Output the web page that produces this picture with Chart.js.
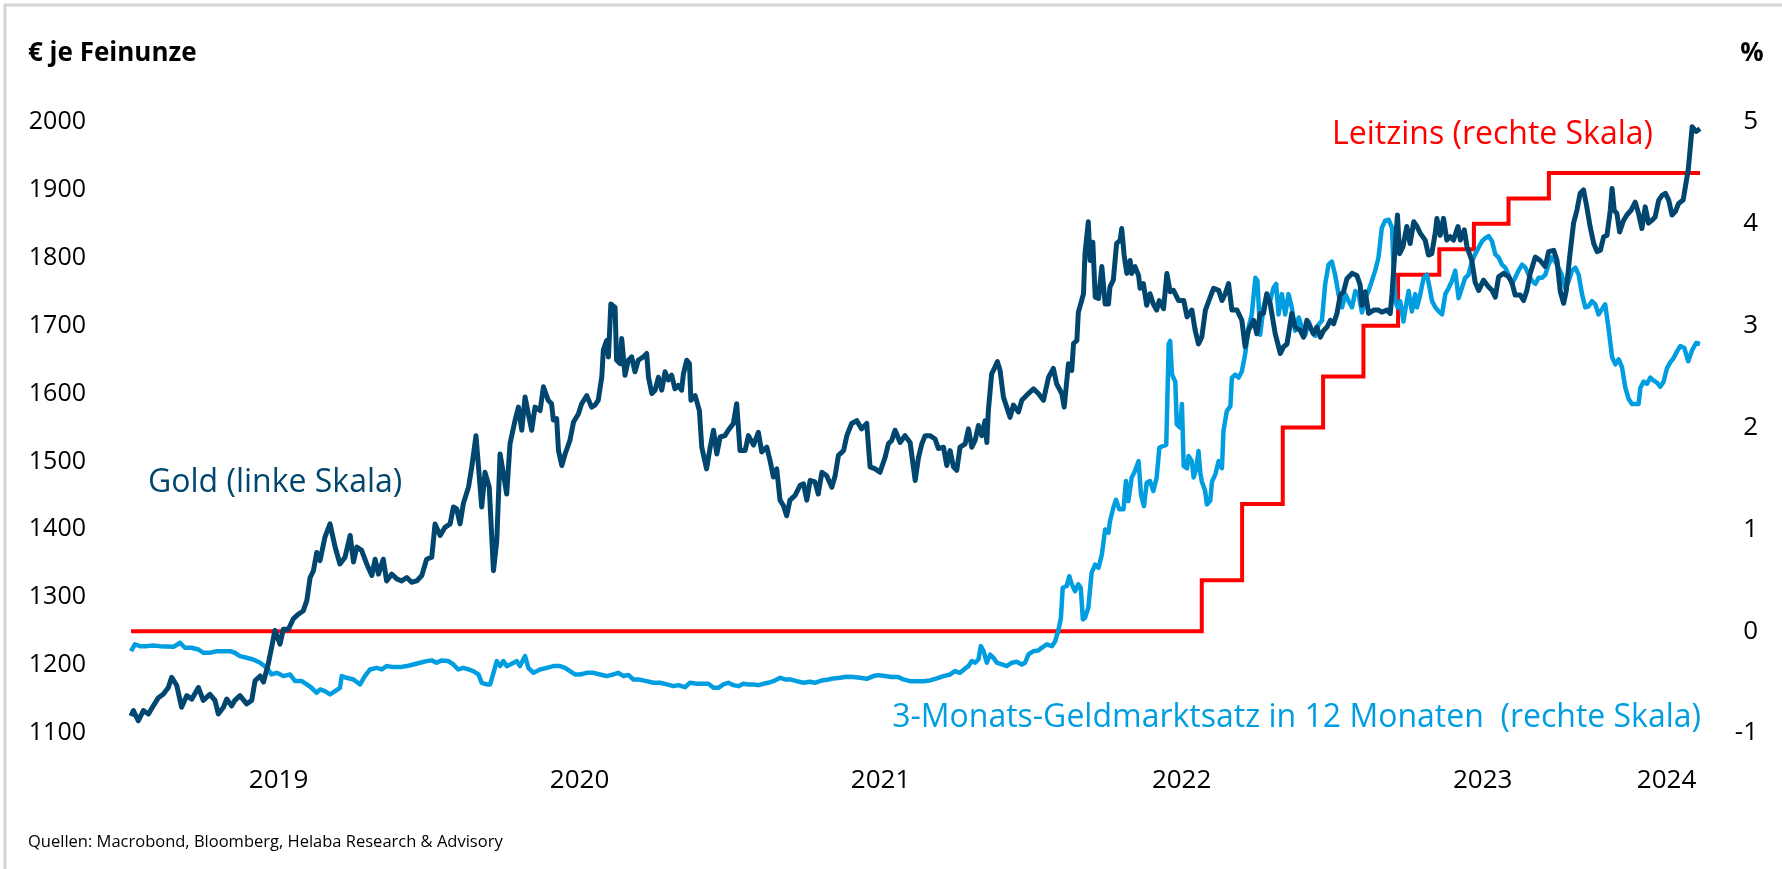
<!DOCTYPE html>
<html>
<head>
<meta charset="utf-8">
<script src="https://cdn.jsdelivr.net/npm/chart.js@4.4.1/dist/chart.umd.min.js"></script>
<style>
  html, body { margin: 0; padding: 0; background: #fff; }
  #wrap { width: 1782px; height: 869px; }
</style>
</head>
<body>
<div id="wrap"><canvas id="chart" width="1782" height="869"></canvas></div>
<script>
// x values are fractional years
const xMin = 2019.0;
const xMax = 2024.222;
const yearLabels = ['2019', '2020', '2021', '2022', '2023', '2024'];

// Gold in EUR per troy ounce (left scale)
const goldDates = [
  2019.010, 2019.018, 2019.034, 2019.051, 2019.068, 2019.084, 2019.101, 2019.117, 2019.134, 2019.145,
  2019.162, 2019.178, 2019.195, 2019.212, 2019.234, 2019.250, 2019.272, 2019.289, 2019.300, 2019.317,
  2019.328, 2019.344, 2019.355, 2019.372, 2019.394, 2019.411, 2019.422, 2019.439, 2019.450, 2019.466,
  2019.477, 2019.488, 2019.505, 2019.516, 2019.533, 2019.549, 2019.566, 2019.582, 2019.594, 2019.605,
  2019.616, 2019.627, 2019.638, 2019.654, 2019.671, 2019.688, 2019.704, 2019.721, 2019.738, 2019.749,
  2019.760, 2019.776, 2019.793, 2019.810, 2019.821, 2019.832, 2019.848, 2019.859, 2019.876, 2019.893,
  2019.909, 2019.926, 2019.942, 2019.959, 2019.976, 2019.992, 2020.009, 2020.020, 2020.037, 2020.053,
  2020.070, 2020.081, 2020.092, 2020.103, 2020.114, 2020.131, 2020.142, 2020.156, 2020.175, 2020.186,
  2020.200, 2020.214, 2020.225, 2020.236, 2020.247, 2020.258, 2020.269, 2020.286, 2020.297, 2020.308,
  2020.319, 2020.330, 2020.341, 2020.352, 2020.369, 2020.380, 2020.396, 2020.407, 2020.413, 2020.424,
  2020.430, 2020.441, 2020.452, 2020.468, 2020.480, 2020.496, 2020.507, 2020.524, 2020.540, 2020.551,
  2020.562, 2020.574, 2020.579, 2020.590, 2020.596, 2020.604, 2020.618, 2020.623, 2020.635, 2020.640,
  2020.651, 2020.662, 2020.673, 2020.684, 2020.695, 2020.712, 2020.723, 2020.729, 2020.740, 2020.751,
  2020.762, 2020.773, 2020.784, 2020.795, 2020.806, 2020.817, 2020.828, 2020.839, 2020.845, 2020.856,
  2020.865, 2020.870, 2020.884, 2020.898, 2020.906, 2020.922, 2020.934, 2020.945, 2020.956, 2020.967,
  2020.983, 2020.994, 2021.011, 2021.022, 2021.033, 2021.050, 2021.061, 2021.078, 2021.094, 2021.105,
  2021.122, 2021.133, 2021.144, 2021.155, 2021.166, 2021.177, 2021.188, 2021.199, 2021.216, 2021.233,
  2021.244, 2021.255, 2021.266, 2021.282, 2021.293, 2021.305, 2021.321, 2021.338, 2021.349, 2021.360,
  2021.377, 2021.388, 2021.404, 2021.421, 2021.437, 2021.454, 2021.465, 2021.482, 2021.498, 2021.515,
  2021.526, 2021.537, 2021.548, 2021.565, 2021.581, 2021.598, 2021.615, 2021.626, 2021.637, 2021.648,
  2021.664, 2021.681, 2021.692, 2021.709, 2021.720, 2021.731, 2021.742, 2021.753, 2021.764, 2021.781,
  2021.792, 2021.803, 2021.814, 2021.825, 2021.836, 2021.847, 2021.853, 2021.858, 2021.869, 2021.880,
  2021.888, 2021.897, 2021.908, 2021.919, 2021.930, 2021.941, 2021.958, 2021.969, 2021.991, 2022.008,
  2022.024, 2022.041, 2022.058, 2022.074, 2022.085, 2022.102, 2022.110, 2022.124, 2022.135, 2022.141,
  2022.152, 2022.157, 2022.168, 2022.174, 2022.179, 2022.190, 2022.196, 2022.205, 2022.213, 2022.224,
  2022.235, 2022.246, 2022.257, 2022.262, 2022.273, 2022.284, 2022.296, 2022.301, 2022.309, 2022.318,
  2022.329, 2022.334, 2022.345, 2022.357, 2022.362, 2022.373, 2022.384, 2022.395, 2022.406, 2022.417,
  2022.426, 2022.440, 2022.451, 2022.462, 2022.473, 2022.490, 2022.507, 2022.518, 2022.534, 2022.545,
  2022.556, 2022.567, 2022.579, 2022.595, 2022.606, 2022.623, 2022.634, 2022.645, 2022.656, 2022.667,
  2022.684, 2022.700, 2022.711, 2022.722, 2022.739, 2022.750, 2022.761, 2022.772, 2022.783, 2022.794,
  2022.811, 2022.828, 2022.839, 2022.850, 2022.866, 2022.877, 2022.894, 2022.905, 2022.916, 2022.927,
  2022.938, 2022.949, 2022.961, 2022.972, 2022.983, 2022.994, 2023.005, 2023.016, 2023.027, 2023.038,
  2023.049, 2023.066, 2023.082, 2023.093, 2023.099, 2023.110, 2023.121, 2023.138, 2023.154, 2023.165,
  2023.182, 2023.193, 2023.199, 2023.210, 2023.217, 2023.224, 2023.235, 2023.248, 2023.259, 2023.271,
  2023.282, 2023.293, 2023.309, 2023.320, 2023.331, 2023.343, 2023.348, 2023.359, 2023.370, 2023.381,
  2023.392, 2023.403, 2023.418, 2023.426, 2023.439, 2023.448, 2023.464, 2023.475, 2023.487, 2023.503,
  2023.520, 2023.531, 2023.542, 2023.553, 2023.570, 2023.586, 2023.597, 2023.608, 2023.625, 2023.636,
  2023.647, 2023.658, 2023.675, 2023.691, 2023.708, 2023.719, 2023.736, 2023.747, 2023.758, 2023.769,
  2023.778, 2023.789, 2023.802, 2023.813, 2023.824, 2023.835, 2023.846, 2023.857, 2023.869, 2023.880,
  2023.891, 2023.902, 2023.913, 2023.924, 2023.930, 2023.937, 2023.946, 2023.955, 2023.968, 2023.979,
  2023.993, 2024.007, 2024.018, 2024.029, 2024.040, 2024.051, 2024.062, 2024.073, 2024.085, 2024.096,
  2024.107, 2024.118, 2024.129, 2024.140, 2024.151, 2024.166, 2024.183, 2024.196, 2024.209, 2024.222
];
const goldValues = [
  1125, 1133, 1118, 1133, 1128, 1140, 1152, 1157, 1167, 1182,
  1170, 1138, 1155, 1150, 1167, 1148, 1157, 1148, 1128, 1138,
  1150, 1140, 1148, 1155, 1143, 1148, 1177, 1184, 1175, 1202,
  1226, 1251, 1231, 1253, 1253, 1268, 1275, 1280, 1295, 1329,
  1339, 1366, 1354, 1388, 1408, 1374, 1349, 1359, 1391, 1352,
  1374, 1369, 1349, 1332, 1356, 1334, 1356, 1324, 1334, 1327,
  1324, 1329, 1322, 1324, 1332, 1356, 1359, 1408, 1391, 1403,
  1408, 1433, 1430, 1408, 1438, 1462, 1492, 1538, 1433, 1484,
  1462, 1339, 1383, 1511, 1482, 1452, 1526, 1561, 1580, 1546,
  1595, 1570, 1546, 1580, 1575, 1610, 1590, 1585, 1561, 1563,
  1516, 1494, 1511, 1531, 1558, 1570, 1585, 1597, 1580, 1583,
  1590, 1625, 1664, 1678, 1654, 1732, 1727, 1649, 1644, 1681,
  1627, 1649, 1654, 1632, 1649, 1654, 1659, 1624, 1600, 1605,
  1624, 1605, 1632, 1620, 1627, 1607, 1612, 1605, 1629, 1649,
  1644, 1590, 1597, 1575, 1521, 1489, 1521, 1546, 1511, 1536,
  1538, 1546, 1556, 1585, 1516, 1516, 1538, 1524, 1543, 1514,
  1521, 1501, 1477, 1489, 1443, 1435, 1420, 1443, 1450, 1465,
  1467, 1443, 1472, 1470, 1452, 1484, 1479, 1462, 1479, 1509,
  1516, 1538, 1556, 1560, 1548, 1556, 1492, 1489, 1484, 1506,
  1526, 1531, 1546, 1528, 1538, 1528, 1472, 1506, 1526, 1538,
  1538, 1533, 1519, 1521, 1494, 1516, 1492, 1487, 1521, 1526,
  1548, 1521, 1531, 1553, 1538, 1560, 1528, 1575, 1629, 1639,
  1647, 1634, 1595, 1580, 1565, 1583, 1573, 1590, 1600, 1607,
  1600, 1590, 1624, 1637, 1614, 1600, 1580, 1644, 1634, 1674,
  1678, 1720, 1737, 1747, 1806, 1853, 1796, 1823, 1742, 1740,
  1787, 1732, 1732, 1757, 1767, 1821, 1826, 1843, 1804, 1777,
  1796, 1777, 1787, 1774, 1755, 1762, 1730, 1747, 1732, 1723,
  1737, 1725, 1777, 1750, 1752, 1737, 1737, 1713, 1723, 1693,
  1673, 1683, 1723, 1742, 1755, 1752, 1737, 1747, 1762, 1723,
  1723, 1708, 1669, 1693, 1708, 1688, 1718, 1718, 1747, 1733,
  1688, 1659, 1669, 1673, 1718, 1698, 1693, 1683, 1708, 1698,
  1688, 1698, 1683, 1693, 1698, 1708, 1703, 1718, 1745, 1750,
  1769, 1777, 1774, 1760, 1730, 1750, 1718, 1723, 1723, 1720,
  1723, 1718, 1747, 1821, 1863, 1806, 1816, 1846, 1821, 1853,
  1846, 1836, 1826, 1804, 1806, 1838, 1858, 1833, 1858, 1826,
  1831, 1826, 1846, 1826, 1841, 1816, 1796, 1764, 1752, 1767,
  1757, 1752, 1742, 1772, 1777, 1772, 1764, 1745, 1745, 1737,
  1752, 1777, 1801, 1796, 1787, 1809, 1811, 1796, 1750, 1733,
  1752, 1801, 1851, 1870, 1895, 1900, 1875, 1846, 1821, 1809,
  1811, 1831, 1833, 1870, 1902, 1870, 1865, 1838, 1855, 1863,
  1870, 1882, 1865, 1843, 1875, 1851, 1855, 1860, 1885, 1892,
  1895, 1885, 1863, 1868, 1880, 1885, 1930, 1993, 1986, 1990
];

// 3-month money market rate in 12 months, % (right scale)
const rateDates = [
  2019.010, 2019.023, 2019.040, 2019.062, 2019.084, 2019.106, 2019.128, 2019.151, 2019.173, 2019.189,
  2019.211, 2019.234, 2019.250, 2019.272, 2019.295, 2019.317, 2019.339, 2019.355, 2019.372, 2019.394,
  2019.416, 2019.439, 2019.461, 2019.477, 2019.494, 2019.516, 2019.538, 2019.555, 2019.577, 2019.594,
  2019.610, 2019.627, 2019.638, 2019.654, 2019.671, 2019.688, 2019.704, 2019.710, 2019.726, 2019.749,
  2019.771, 2019.787, 2019.804, 2019.826, 2019.843, 2019.859, 2019.881, 2019.904, 2019.926, 2019.948,
  2019.970, 2019.992, 2020.009, 2020.025, 2020.042, 2020.064, 2020.081, 2020.097, 2020.114, 2020.131,
  2020.147, 2020.164, 2020.175, 2020.192, 2020.203, 2020.214, 2020.225, 2020.236, 2020.247, 2020.258,
  2020.275, 2020.291, 2020.302, 2020.319, 2020.330, 2020.347, 2020.369, 2020.391, 2020.413, 2020.435,
  2020.452, 2020.468, 2020.485, 2020.502, 2020.524, 2020.546, 2020.568, 2020.590, 2020.612, 2020.629,
  2020.646, 2020.662, 2020.679, 2020.695, 2020.723, 2020.745, 2020.767, 2020.790, 2020.812, 2020.828,
  2020.850, 2020.867, 2020.889, 2020.911, 2020.928, 2020.945, 2020.961, 2020.978, 2020.994, 2021.011,
  2021.028, 2021.044, 2021.061, 2021.078, 2021.094, 2021.111, 2021.127, 2021.144, 2021.166, 2021.183,
  2021.199, 2021.221, 2021.244, 2021.266, 2021.282, 2021.305, 2021.327, 2021.343, 2021.365, 2021.388,
  2021.410, 2021.432, 2021.454, 2021.476, 2021.493, 2021.515, 2021.537, 2021.559, 2021.576, 2021.598,
  2021.620, 2021.642, 2021.664, 2021.687, 2021.709, 2021.731, 2021.747, 2021.764, 2021.781, 2021.792,
  2021.803, 2021.814, 2021.825, 2021.833, 2021.842, 2021.853, 2021.864, 2021.875, 2021.886, 2021.903,
  2021.919, 2021.936, 2021.952, 2021.969, 2021.980, 2021.991, 2022.008, 2022.024, 2022.035, 2022.052,
  2022.069, 2022.080, 2022.091, 2022.099, 2022.105, 2022.118, 2022.127, 2022.135, 2022.146, 2022.157,
  2022.165, 2022.172, 2022.179, 2022.190, 2022.201, 2022.213, 2022.224, 2022.235, 2022.246, 2022.257,
  2022.262, 2022.273, 2022.282, 2022.293, 2022.307, 2022.315, 2022.323, 2022.334, 2022.345, 2022.357,
  2022.365, 2022.375, 2022.384, 2022.395, 2022.406, 2022.417, 2022.426, 2022.438, 2022.449, 2022.457,
  2022.462, 2022.468, 2022.479, 2022.484, 2022.495, 2022.501, 2022.507, 2022.518, 2022.523, 2022.534,
  2022.540, 2022.549, 2022.556, 2022.562, 2022.567, 2022.578, 2022.584, 2022.595, 2022.601, 2022.612,
  2022.623, 2022.634, 2022.639, 2022.650, 2022.662, 2022.667, 2022.678, 2022.689, 2022.700, 2022.711,
  2022.722, 2022.733, 2022.745, 2022.752, 2022.761, 2022.772, 2022.783, 2022.794, 2022.805, 2022.814,
  2022.822, 2022.833, 2022.844, 2022.855, 2022.866, 2022.877, 2022.889, 2022.900, 2022.911, 2022.922,
  2022.933, 2022.944, 2022.955, 2022.966, 2022.977, 2022.988, 2022.999, 2023.010, 2023.021, 2023.033,
  2023.044, 2023.055, 2023.066, 2023.077, 2023.088, 2023.099, 2023.110, 2023.121, 2023.132, 2023.143,
  2023.154, 2023.165, 2023.176, 2023.188, 2023.199, 2023.204, 2023.210, 2023.217, 2023.226, 2023.237,
  2023.246, 2023.254, 2023.265, 2023.276, 2023.282, 2023.293, 2023.304, 2023.315, 2023.324, 2023.332,
  2023.343, 2023.354, 2023.365, 2023.376, 2023.387, 2023.398, 2023.409, 2023.420, 2023.431, 2023.442,
  2023.453, 2023.464, 2023.475, 2023.487, 2023.498, 2023.509, 2023.520, 2023.531, 2023.542, 2023.553,
  2023.564, 2023.575, 2023.586, 2023.597, 2023.608, 2023.619, 2023.631, 2023.642, 2023.653, 2023.664,
  2023.675, 2023.686, 2023.697, 2023.708, 2023.719, 2023.730, 2023.741, 2023.752, 2023.763, 2023.774,
  2023.786, 2023.797, 2023.808, 2023.819, 2023.830, 2023.841, 2023.852, 2023.863, 2023.874, 2023.885,
  2023.896, 2023.907, 2023.918, 2023.930, 2023.941, 2023.952, 2023.963, 2023.974, 2023.985, 2023.996,
  2024.007, 2024.018, 2024.024, 2024.035, 2024.046, 2024.057, 2024.068, 2024.079, 2024.090, 2024.101,
  2024.112, 2024.123, 2024.134, 2024.146, 2024.157, 2024.170, 2024.183, 2024.196, 2024.209, 2024.222
];
const rateValues = [
  -0.196, -0.13, -0.147, -0.147, -0.14, -0.147, -0.15, -0.154, -0.114, -0.163,
  -0.163, -0.18, -0.212, -0.212, -0.196, -0.196, -0.196, -0.212, -0.245, -0.261,
  -0.278, -0.31, -0.36, -0.425, -0.409, -0.441, -0.425, -0.49, -0.49, -0.523,
  -0.556, -0.605, -0.572, -0.589, -0.621, -0.589, -0.556, -0.441, -0.458, -0.474,
  -0.523, -0.441, -0.376, -0.36, -0.376, -0.343, -0.353, -0.353, -0.343, -0.327,
  -0.31, -0.294, -0.287, -0.31, -0.287, -0.294, -0.327, -0.376, -0.36, -0.376,
  -0.392, -0.425, -0.507, -0.523, -0.523, -0.409, -0.294, -0.343, -0.294, -0.343,
  -0.32, -0.294, -0.343, -0.245, -0.36, -0.409, -0.376, -0.36, -0.343, -0.343,
  -0.36, -0.392, -0.425, -0.425, -0.409, -0.409, -0.425, -0.441, -0.425, -0.409,
  -0.441, -0.431, -0.474, -0.474, -0.491, -0.507, -0.507, -0.523, -0.54, -0.53,
  -0.55, -0.507, -0.517, -0.517, -0.517, -0.556, -0.556, -0.523, -0.507, -0.53,
  -0.54, -0.517, -0.523, -0.523, -0.53, -0.517, -0.507, -0.491, -0.458, -0.474,
  -0.474, -0.491, -0.507, -0.497, -0.507, -0.484, -0.474, -0.464, -0.458, -0.448,
  -0.451, -0.458, -0.468, -0.441, -0.432, -0.441, -0.451, -0.451, -0.474, -0.491,
  -0.491, -0.491, -0.484, -0.464, -0.441, -0.425, -0.392, -0.409, -0.366, -0.343,
  -0.294, -0.31, -0.278, -0.147, -0.196, -0.31, -0.229, -0.261, -0.31, -0.327,
  -0.343, -0.31, -0.3, -0.327, -0.31, -0.229, -0.196, -0.19, -0.163, -0.13,
  -0.147, -0.098, 0.016, 0.13, 0.426, 0.443, 0.54, 0.46, 0.393, 0.46,
  0.426, 0.115, 0.131, 0.23, 0.573, 0.655, 0.622, 0.753, 0.999, 0.966,
  1.08, 1.21, 1.29, 1.196, 1.196, 1.474, 1.277, 1.507, 1.572, 1.67,
  1.343, 1.228, 1.457, 1.474, 1.376, 1.507, 1.801, 1.818, 1.83, 2.82,
  2.85, 2.52, 2.45, 2.03, 2.0, 2.23, 1.62, 1.6, 1.72, 1.67,
  1.51, 1.6, 1.77, 1.56, 1.47, 1.38, 1.245, 1.28, 1.47, 1.54,
  1.67, 1.6, 1.965, 2.16, 2.21, 2.49, 2.52, 2.49, 2.55, 2.72,
  2.98, 3.11, 3.47, 3.44, 2.91, 3.18, 3.31, 3.24, 3.37, 3.41,
  3.11, 3.31, 3.11, 3.31, 3.18, 2.95, 3.08, 2.98, 2.91, 3.04,
  2.95, 2.9, 3.01, 3.05, 3.41, 3.6, 3.63, 3.5, 3.31, 3.18,
  3.31, 3.24, 3.18, 3.34, 3.31, 3.13, 3.27, 3.34, 3.44, 3.54,
  3.67, 3.96, 4.03, 4.04, 3.96, 3.57, 3.24, 3.18, 3.24, 3.04,
  3.21, 3.34, 3.14, 3.31, 3.18, 3.31, 3.47, 3.5, 3.37, 3.24,
  3.18, 3.14, 3.11, 3.31, 3.37, 3.44, 3.54, 3.27, 3.37, 3.47,
  3.5, 3.63, 3.7, 3.77, 3.83, 3.86, 3.88, 3.83, 3.7, 3.67,
  3.6, 3.57, 3.5, 3.41, 3.47, 3.54, 3.6, 3.57, 3.5, 3.44,
  3.41, 3.47, 3.47, 3.5, 3.6, 3.67, 3.63, 3.57, 3.5, 3.37,
  3.44, 3.54, 3.57, 3.5, 3.31, 3.18, 3.19, 3.24, 3.21, 3.11,
  3.16, 3.21, 2.98, 2.69, 2.62, 2.67, 2.59, 2.39, 2.28, 2.23,
  2.23, 2.23, 2.39, 2.45, 2.43, 2.49, 2.46, 2.44, 2.4, 2.45,
  2.58, 2.64, 2.68, 2.75, 2.8, 2.78, 2.65, 2.76, 2.83, 2.82
];

// ECB main refinancing rate, % (right scale)
const policyDates = [2019.010, 2022.567, 2022.701, 2022.836, 2022.970, 2023.104, 2023.219, 2023.356, 2023.471, 2023.586, 2023.720, 2024.222];
const policyValues = [0, 0.5, 1.25, 2.0, 2.5, 3.0, 3.5, 3.75, 4.0, 4.25, 4.5, 4.5];

const goldColor = '#00466f';
const rateColor = '#009ee0';
const policyColor = '#ff0000';
const fontFamily = "'Open Sans', sans-serif";

function toPoints(dates, values) {
  const n = Math.min(dates.length, values.length);
  const out = [];
  for (let i = 0; i < n; i++) out.push({ x: dates[i], y: values[i] });
  return out;
}

// tick at the middle of each (possibly partial) year
const xTickPositions = yearLabels.map((label) => {
  const y = Number(label);
  return (Math.max(y, xMin) + Math.min(y + 1, xMax)) / 2;
});

const textPlugin = {
  id: 'texts',
  beforeDraw(chart) {
    const ctx = chart.ctx;
    ctx.save();
    ctx.fillStyle = '#fff';
    ctx.fillRect(0, 0, chart.width, chart.height);
    ctx.strokeStyle = '#d4d4d4';
    ctx.lineWidth = 3;
    ctx.beginPath();
    ctx.moveTo(5, chart.height);
    ctx.lineTo(5, 5);
    ctx.lineTo(chart.width, 5);
    ctx.stroke();
    ctx.restore();
  },
  afterDraw(chart) {
    const ctx = chart.ctx;
    ctx.save();
    ctx.textBaseline = 'middle';

    ctx.fillStyle = '#000';
    ctx.font = `bold 26px ${fontFamily}`;
    ctx.textAlign = 'left';
    ctx.fillText('€ je Feinunze', 28, 54);
    ctx.textAlign = 'center';
    ctx.fillText('%', 1752, 54);

    ctx.font = `32px ${fontFamily}`;
    ctx.textAlign = 'left';
    ctx.fillStyle = goldColor;
    ctx.fillText('Gold (linke Skala)', 148, 483);

    ctx.textAlign = 'right';
    ctx.fillStyle = policyColor;
    ctx.fillText('Leitzins (rechte Skala)', 1653, 135);

    ctx.fillStyle = rateColor;
    ctx.fillText('3-Monats-Geldmarktsatz in 12 Monaten  (rechte Skala)', 1701, 718);

    ctx.font = `16.5px ${fontFamily}`;
    ctx.textAlign = 'left';
    ctx.fillStyle = '#000';
    ctx.fillText('Quellen: Macrobond, Bloomberg, Helaba Research & Advisory', 28, 842);
    ctx.restore();
  }
};

const tickFont = { family: fontFamily, size: 26 };

new Chart(document.getElementById('chart').getContext('2d'), {
  type: 'line',
  data: {
    datasets: [
      {
        label: 'Gold (linke Skala)',
        data: toPoints(goldDates, goldValues),
        yAxisID: 'y',
        borderColor: goldColor,
        borderWidth: 5,
        pointRadius: 0,
        borderJoinStyle: 'round',
        order: 0,
      },
      {
        label: '3-Monats-Geldmarktsatz in 12 Monaten',
        data: toPoints(rateDates, rateValues),
        yAxisID: 'y1',
        borderColor: rateColor,
        borderWidth: 4.5,
        pointRadius: 0,
        borderJoinStyle: 'round',
        order: 1,
      },
      {
        label: 'Leitzins',
        data: toPoints(policyDates, policyValues),
        yAxisID: 'y1',
        borderColor: policyColor,
        borderWidth: 4,
        pointRadius: 0,
        stepped: true,
        order: 2,
      },
    ],
  },
  options: {
    responsive: false,
    animation: false,
    clip: false,
    layout: {
      padding: { left: 0, right: 24, top: 122, bottom: 0 },
    },
    plugins: {
      legend: { display: false },
      tooltip: { enabled: false },
      title: { display: false },
    },
    elements: {
      line: { tension: 0 },
    },
    scales: {
      x: {
        type: 'linear',
        min: xMin,
        max: xMax,
        grid: { display: false },
        border: { display: false },
        afterBuildTicks: (scale) => {
          scale.ticks = xTickPositions.map((v) => ({ value: v }));
        },
        afterFit: (scale) => { scale.height = 136; },
        ticks: {
          autoSkip: false,
          maxRotation: 0,
          padding: 24,
          color: '#000',
          font: tickFont,
          callback: (value, index) => yearLabels[index],
        },
      },
      y: {
        position: 'left',
        min: 1100,
        max: 2000,
        grid: { display: false },
        border: { display: false },
        afterFit: (scale) => { scale.width = 128; },
        ticks: {
          stepSize: 100,
          padding: 34,
          color: '#000',
          font: { family: fontFamily, size: 25 },
          callback: (value) => String(value),
        },
      },
      y1: {
        position: 'right',
        min: -1,
        max: 5,
        grid: { display: false },
        border: { display: false },
        afterFit: (scale) => { scale.width = 58; },
        ticks: {
          stepSize: 1,
          crossAlign: 'far',
          color: '#000',
          font: tickFont,
          callback: (value) => String(value),
        },
      },
    },
  },
  plugins: [textPlugin],
});
</script>
</body>
</html>
